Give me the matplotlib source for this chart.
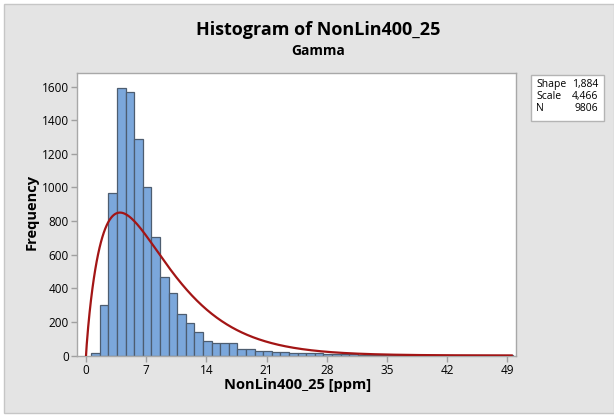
import math
import numpy as np
import matplotlib
matplotlib.use("Agg")
import matplotlib.pyplot as plt
from matplotlib.patches import Rectangle

plt.rcParams['font.family'] = ['Open Sans', 'DejaVu Sans']

# ---- data ----
bin_start = 0.6
bin_width = 1.0
counts = [15, 300, 965, 1590, 1570, 1290, 1000, 705, 467, 374,
          246, 191, 137, 89, 76, 76, 76, 36, 36, 28,
          28, 22, 18, 16, 16, 14, 12, 10, 9, 8,
          7, 4, 3, 3, 5, 2, 2, 2, 2, 2,
          2, 2, 1, 1, 1, 1, 1, 1, 2]
shape_k = 1.884
scale_theta = 4.466
n_obs = 9806
x_ticks = [0, 7, 14, 21, 28, 35, 42, 49]
y_ticks = [0, 200, 400, 600, 800, 1000, 1200, 1400, 1600]
title = "Histogram of NonLin400_25"
subtitle = "Gamma"
xlabel = "NonLin400_25 [ppm]"
ylabel = "Frequency"
legend_rows = [("Shape", "1,884"), ("Scale", "4,466"), ("N", "9806")]

W, H = 614, 415
fig = plt.figure(figsize=(W / 100, H / 100), dpi=100)
fig.patch.set_facecolor("white")
bg = Rectangle((4 / W, (H - 412.5) / H), 1 - 4 / W, (412.5 - 4) / H,
               transform=fig.transFigure, facecolor="#e4e4e4",
               edgecolor="#c6c6c6", linewidth=1.0, zorder=-10)
fig.patches.append(bg)

L, R, T, B = 77, 516, 72.7, 355.5
ax = fig.add_axes([L / W, (H - B) / H, (R - L) / W, (B - T) / H])
ax.set_zorder(1)
ax.set_facecolor("white")

edges = bin_start + bin_width * np.arange(len(counts) + 1)
ax.bar(edges[:-1], counts, width=bin_width, align="edge",
       facecolor="#7ba7db", edgecolor="#4d5d70", linewidth=0.9, zorder=2)

xs = np.linspace(0.0, 49.5, 600)
pdf = xs ** (shape_k - 1) * np.exp(-xs / scale_theta) / (math.gamma(shape_k) * scale_theta ** shape_k)
ax.plot(xs, pdf * n_obs * bin_width, color="#a31515", linewidth=1.6, zorder=3)

ax.set_xlim(-1.05, 50.0)
ax.set_ylim(0, 1683)
ax.set_xticks(x_ticks)
ax.set_yticks(y_ticks)
ax.tick_params(axis="both", colors="#a0a0a0", labelcolor="black", labelsize=8.5,
               length=4, width=1, pad=2)
for s in ax.spines.values():
    s.set_color("#a8a8a8")
    s.set_linewidth(1.0)

ax.set_xlabel(xlabel, fontsize=10.5, fontweight="bold")
ax.set_ylabel(ylabel, fontsize=10.5, fontweight="bold")
ax.xaxis.set_label_coords((298 - L) / (R - L), -(385 - B) / (B - T))
ax.yaxis.set_label_coords(-(L - 32) / (R - L), (B - 212) / (B - T))
ax.xaxis.label.set_va("center")
ax.yaxis.label.set_va("center")

fig.text(318 / W, 1 - 30 / H, title, ha="center", va="center", fontsize=13, fontweight="bold")
fig.text(318 / W, 1 - 51 / H, subtitle, ha="center", va="center", fontsize=10, fontweight="bold")

# legend box
fig.patches.append(Rectangle((530.5 / W, (H - 121) / H), (603.5 - 530.5) / W, (121 - 75) / H,
                             transform=fig.transFigure, facecolor="white",
                             edgecolor="#b4b4b4", linewidth=1.0, zorder=5))
for i, (k, v) in enumerate(legend_rows):
    yy = 1 - (84 + i * 12.2) / H
    fig.text(536 / W, yy, k, ha="left", va="center", fontsize=7.5, zorder=6)
    fig.text(598.5 / W, yy, v, ha="right", va="center", fontsize=7.5, zorder=6)

fig.savefig("out.png", dpi=100, facecolor=fig.get_facecolor())
